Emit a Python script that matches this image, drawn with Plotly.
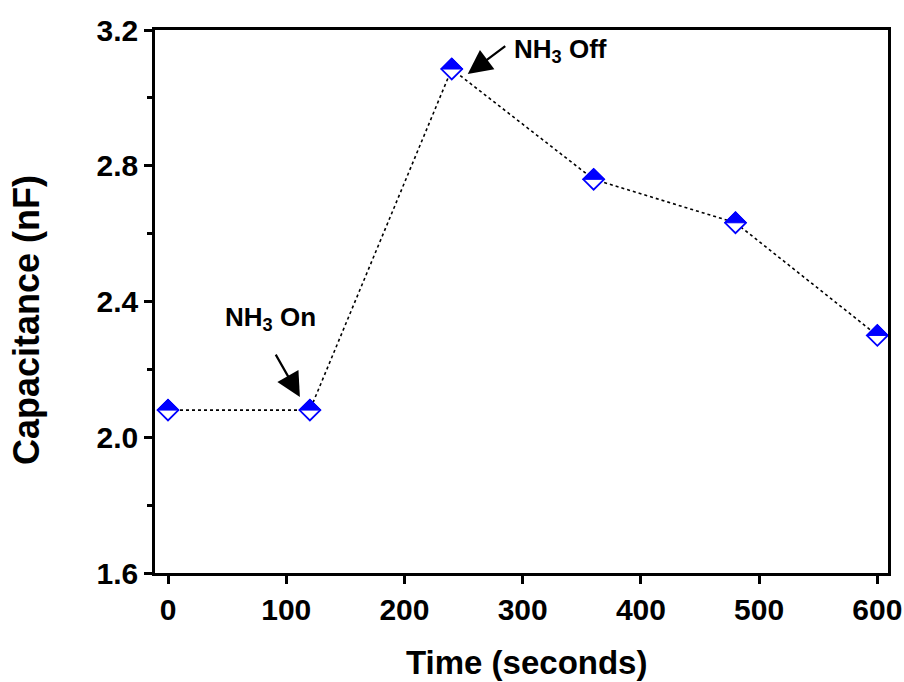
import plotly.graph_objects as go

time_s = [0, 120, 240, 360, 480, 600]
capacitance_nF = [2.08, 2.08, 3.085, 2.76, 2.632, 2.30]
x_ticks = [0, 100, 200, 300, 400, 500, 600]
y_ticks = [1.6, 2.0, 2.4, 2.8, 3.2]

BLUE = "#0000ff"
FONT = "Liberation Sans, Arial, sans-serif"

fig = go.Figure()
fig.add_trace(go.Scatter(
    x=time_s, y=capacitance_nF, mode="lines+markers",
    line=dict(color="black", width=1.6, dash="dot"),
    marker=dict(symbol="diamond", size=16, color="white",
                line=dict(color=BLUE, width=1.8)),
    showlegend=False, hoverinfo="x+y",
))

# top (filled) half of each half-filled diamond
shapes = []
for xv, yv in zip(time_s, capacitance_nF):
    shapes.append(dict(
        type="path", xref="x", yref="y", xsizemode="pixel", ysizemode="pixel",
        xanchor=xv, yanchor=yv, path="M-11,0 L0,11 L11,0 Z",
        fillcolor=BLUE, line=dict(color=BLUE, width=1), layer="above",
    ))

axis_common = dict(
    showline=True, linecolor="black", linewidth=2.5, mirror=True,
    ticks="outside", ticklen=8, tickwidth=2.5, tickcolor="black",
    showgrid=False, zeroline=False, automargin=False,
    tickfont=dict(family=FONT, size=30, color="black", weight="bold"),
)

fig.update_layout(
    width=904, height=682,
    margin=dict(l=155, r=16, t=30, b=109),
    plot_bgcolor="white", paper_bgcolor="white",
    shapes=shapes,
    xaxis=dict(range=[-11, 609], tickvals=x_ticks, **axis_common),
    yaxis=dict(range=[1.6, 3.2], tickvals=y_ticks, ticktext=[f"{v:.1f}" for v in y_ticks],
               minor=dict(ticks="outside", ticklen=5, tickwidth=2.5, tickcolor="black", dtick=0.2,
                          tick0=1.6),
               **axis_common),
)

# axis titles
fig.add_annotation(xref="paper", yref="paper", x=0.5075, y=-0.164, xanchor="center", yanchor="middle",
                   text="<b>Time (seconds)</b>", showarrow=False,
                   font=dict(family=FONT, size=33, color="black"))
fig.add_annotation(xref="paper", yref="paper", x=-0.1746, y=0.466, xanchor="center", yanchor="middle",
                   text="<b>Capacitance (nF)</b>", textangle=-90, showarrow=False,
                   font=dict(family=FONT, size=36, color="black"))

ann_font = dict(family=FONT, size=26, color="black")
fig.add_annotation(x=time_s[1], y=capacitance_nF[1], xref="x", yref="y",
                   text="", showarrow=True, arrowhead=2, arrowsize=2.2, arrowwidth=2.2,
                   arrowcolor="black", xshift=-10, yshift=13, ax=-25, ay=-44)
fig.add_annotation(x=time_s[2], y=capacitance_nF[2], xref="x", yref="y",
                   text="", showarrow=True, arrowhead=2, arrowsize=2.2, arrowwidth=2.2,
                   arrowcolor="black", xshift=16, yshift=-5, ax=39, ay=-29)
fig.add_annotation(x=46.5, y=2.35, xref="x", yref="y", xanchor="left", yanchor="middle",
                   text="<b>NH<sub>3</sub> On</b>", showarrow=False, font=ann_font)
fig.add_annotation(x=291, y=3.14, xref="x", yref="y", xanchor="left", yanchor="middle",
                   text="<b>NH<sub>3</sub> Off</b>", showarrow=False, font=ann_font)

fig.write_html("out.html")
